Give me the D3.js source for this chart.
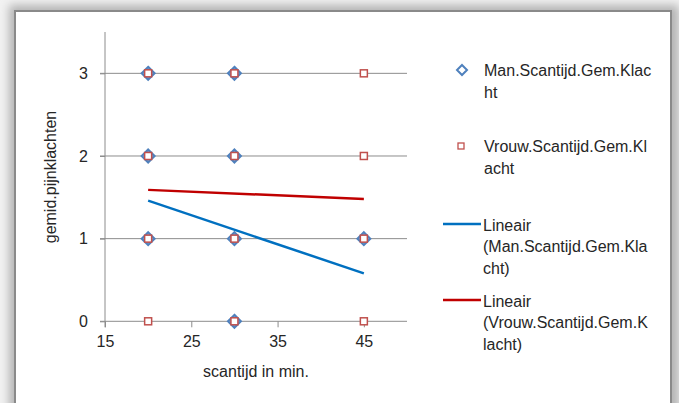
<!DOCTYPE html>
<html>
<head>
    <meta charset="utf-8">
    <style>
        body { margin: 0; background: #f2f2f2; }
        text { font-family: "Liberation Sans", Arial, sans-serif; fill: #262626; }
    </style>
    <script src="https://cdnjs.cloudflare.com/ajax/libs/d3/7.8.5/d3.min.js"></script>
</head>
<body>
<div id="chart"></div>
<script>
    // data
    var manX = [20, 30, 20, 30, 20, 30, 45, 30];
    var manY = [3, 3, 2, 2, 1, 1, 1, 0];
    var vrouwX = [20, 30, 45, 20, 30, 45, 20, 30, 45, 20, 30, 45];
    var vrouwY = [3, 3, 3, 2, 2, 2, 1, 1, 1, 0, 0, 0];
    // trendline end points (Lineair)
    var manTrendX = [20, 45];
    var manTrendY = [1.46, 0.58];
    var vrouwTrendX = [20, 45];
    var vrouwTrendY = [1.59, 1.48];
    var xTicks = [15, 25, 35, 45];
    var yTicks = [0, 1, 2, 3];
    var legendLabels = [
        ["Man.Scantijd.Gem.Klac", "ht"],
        ["Vrouw.Scantijd.Gem.Kl", "acht"],
        ["Lineair", "(Man.Scantijd.Gem.Kla", "cht)"],
        ["Lineair", "(Vrouw.Scantijd.Gem.K", "lacht)"]
    ];

    var W = 679, H = 403;
    var margin = { top: 32, left: 105 },
        width = 302,
        height = 289.3;

    var svg = d3.select("#chart").append("svg")
        .attr("width", W).attr("height", H);

    // shadow + frame
    var defs = svg.append("defs");
    defs.append("filter").attr("id", "blur")
        .attr("x", "-10%").attr("y", "-10%").attr("width", "120%").attr("height", "120%")
        .append("feGaussianBlur").attr("stdDeviation", 5);
    svg.append("rect").attr("x", 9).attr("y", 5).attr("width", 670).attr("height", 440)
        .style("fill", "#b4b4b4").attr("filter", "url(#blur)");
    svg.append("rect").attr("x", 15).attr("y", 11).attr("width", 656).attr("height", 420)
        .style("fill", "#fff").style("stroke", "#8a8a8a").style("stroke-width", 2);

    var g = svg.append("g")
        .attr("transform", "translate(" + margin.left + "," + margin.top + ")");

    var x = d3.scaleLinear().domain([15, 50]).range([0, width]);
    var y = d3.scaleLinear().domain([0, 3.5]).range([height, 0]);

    // gridlines
    g.selectAll(".grid").data(yTicks).enter().append("line")
        .attr("x1", -5).attr("x2", width)
        .attr("y1", function (d) { return y(d); }).attr("y2", function (d) { return y(d); })
        .style("stroke", "#8c8c8c").style("stroke-width", 1);

    // axes
    var xAxis = g.append("g")
        .attr("transform", "translate(0," + height + ")")
        .call(d3.axisBottom(x).tickValues(xTicks).tickFormat(d3.format("d")).tickSize(6).tickPadding(8));
    var yAxis = g.append("g")
        .call(d3.axisLeft(y).tickValues(yTicks).tickFormat(d3.format("d")).tickSize(5).tickPadding(12));
    [xAxis, yAxis].forEach(function (a) {
        a.select(".domain").remove();
        a.selectAll("line").style("stroke", "#8c8c8c");
        a.selectAll("text").style("font-size", "16px").style("font-family", "Liberation Sans, Arial, sans-serif").style("fill", "#262626");
    });
    g.append("line").attr("x1", 0).attr("x2", 0).attr("y1", 0).attr("y2", height + 6)
        .style("stroke", "#8c8c8c");

    // axis titles
    g.append("text").attr("x", 151).attr("y", 345)
        .attr("text-anchor", "middle").style("font-size", "16px").text("scantijd in min.");
    g.append("text").attr("transform", "translate(-49," + 145 + ") rotate(-90)")
        .attr("text-anchor", "middle").style("font-size", "16px").text("gemid.pijnklachten");

    // trendlines
    var line = d3.line().x(function (d) { return x(d[0]); }).y(function (d) { return y(d[1]); });
    g.append("path").datum(d3.zip(manTrendX, manTrendY)).attr("d", line)
        .style("fill", "none").style("stroke", "#0070c0").style("stroke-width", 2.5);
    g.append("path").datum(d3.zip(vrouwTrendX, vrouwTrendY)).attr("d", line)
        .style("fill", "none").style("stroke", "#c00000").style("stroke-width", 2.5);

    // markers
    var diamond = "M0,-6.5L6.5,0L0,6.5L-6.5,0Z";
    g.selectAll(".man").data(d3.zip(manX, manY)).enter().append("path")
        .attr("d", diamond)
        .attr("transform", function (d) { return "translate(" + x(d[0]) + "," + y(d[1]) + ")"; })
        .style("fill", "#7f9fcf").style("stroke", "#4f81bd").style("stroke-width", 2);
    g.selectAll(".vrouw").data(d3.zip(vrouwX, vrouwY)).enter().append("rect")
        .attr("x", function (d) { return x(d[0]) - 3.5; })
        .attr("y", function (d) { return y(d[1]) - 3.5; })
        .attr("width", 7).attr("height", 7)
        .style("fill", "#fff").style("stroke", "#c0504d").style("stroke-width", 1.5);

    // legend
    var legendBase = [76, 152, 230.5, 306.5];
    var legend = svg.append("g");
    legendLabels.forEach(function (lines, i) {
        var t = legend.append("text").attr("x", i < 2 ? 484 : 483).attr("y", legendBase[i])
            .style("font-size", "16px");
        lines.forEach(function (s, j) {
            t.append("tspan").attr("x", i < 2 ? 484 : 483).attr("y", legendBase[i] + j * 21.5).text(s);
        });
    });
    legend.append("path").attr("d", "M0,-5L5,0L0,5L-5,0Z").attr("transform", "translate(462,70)")
        .style("fill", "#fff").style("stroke", "#4f81bd").style("stroke-width", 2);
    legend.append("rect").attr("x", 458).attr("y", 143).attr("width", 6).attr("height", 6)
        .style("fill", "#fff").style("stroke", "#c0504d").style("stroke-width", 1.3);
    legend.append("line").attr("x1", 443).attr("x2", 481).attr("y1", 224).attr("y2", 224)
        .style("stroke", "#0070c0").style("stroke-width", 2.5);
    legend.append("line").attr("x1", 443).attr("x2", 481).attr("y1", 300).attr("y2", 300)
        .style("stroke", "#c00000").style("stroke-width", 2.5);
</script>
</body>
</html>
